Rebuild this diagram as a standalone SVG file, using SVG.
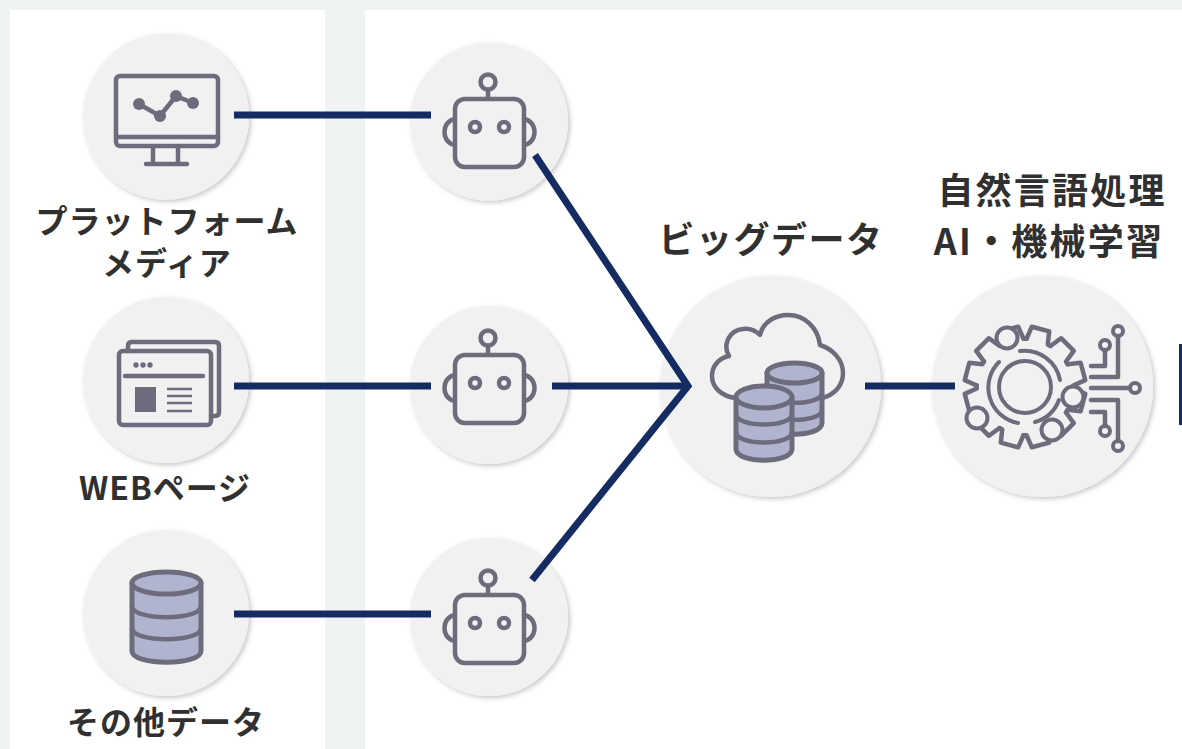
<svg xmlns="http://www.w3.org/2000/svg" xmlns:xlink="http://www.w3.org/1999/xlink" width="1182" height="749" viewBox="0 0 1182 749">
<style>
.disc{fill:#f1f1f2;filter:url(#sh)}
.ic{fill:none;stroke:#6c6c7c;stroke-width:4.5;stroke-linecap:round;stroke-linejoin:round}
.thin{stroke-width:4}
.db{fill:#b0b4cf;stroke:#6c6c7c;stroke-width:5;stroke-linejoin:round}
.dbl{fill:none;stroke:#6c6c7c;stroke-width:4.5}
.solid{fill:#6c6c7c;stroke:none}
.lb{font-family:"Noto Sans CJK JP","Noto Sans",sans-serif;font-weight:700;font-size:32px;fill:#303030;text-anchor:middle;letter-spacing:1px}
.big{font-size:36px;letter-spacing:1.500px}
.wide{letter-spacing:2.200px}
.cn{stroke:#152c63;stroke-width:7;fill:none}
</style>
<defs>
<filter id="sh" x="-20%" y="-20%" width="140%" height="140%"><feDropShadow dx="2" dy="2" stdDeviation="2.5" flood-color="#000" flood-opacity="0.22"/></filter>
<g id="robot">
<rect class="ic" x="-34" y="-22" width="69" height="68" rx="10"/>
<circle class="ic" cx="-1" cy="-39" r="7.5"/>
<path class="ic" d="M-1-31V-22M-34-2C-48 0-48 22-34 24M35-2C49 0 49 22 35 24"/>
<circle class="ic" cx="-14" cy="6" r="5"/>
<circle class="ic" cx="15" cy="6" r="5"/>
</g>
<path id="tooth" class="ic" d="M-11-47L-9-60H9L11-47L14-46.200"/>
</defs>
<rect width="1182" height="749" fill="#eff3f4"/>
<rect x="10" y="10" width="315" height="739" fill="#fff"/>
<rect x="365" y="10" width="817" height="739" fill="#fff"/>

<g id="node-platform">
<circle class="disc" cx="166" cy="116.500" r="83"/>
<rect class="ic" x="116" y="76" width="102" height="70" rx="4"/>
<path class="ic" d="M116 137H218M153 146V164M178 146V164M146 164H187"/>
<path class="ic" d="M139 104L160 116L176 96L193 103"/>
<circle class="solid" cx="139" cy="104" r="6"/><circle class="solid" cx="160" cy="116" r="6"/><circle class="solid" cx="176" cy="96" r="6"/><circle class="solid" cx="193" cy="103" r="6"/>
<text class="lb" x="167" y="233">プラットフォーム</text>
<text class="lb" x="167" y="275">メディア</text>
</g>

<g id="node-web">
<circle class="disc" cx="166" cy="380" r="83"/>
<path class="ic" d="M128 351V346Q128 342 132 342H215Q219 342 219 346V412Q219 416 215 416H211"/>
<rect class="ic" x="119" y="351" width="92" height="74" rx="4"/>
<circle class="solid" cx="136" cy="365" r="2.700"/><circle class="solid" cx="143" cy="365" r="2.700"/><circle class="solid" cx="150" cy="365" r="2.700"/>
<path class="ic" d="M125 376H203"/>
<rect class="solid" x="135" y="387" width="21" height="25"/>
<path d="M167 389H192M167 396H192M167 403H192M167 411H192" fill="none" stroke="#6c6c7c" stroke-width="2.500"/>
<text class="lb" x="165" y="500">WEBページ</text>
</g>

<g id="node-other">
<circle class="disc" cx="166" cy="613" r="83"/>
<path class="db" d="M132 583V651C132 666 201 666 201 651V583Z"/>
<ellipse class="db" cx="166.500" cy="583" rx="34.500" ry="11"/>
<path class="dbl" d="M132 606C132 621 201 621 201 606M132 628C132 643 201 643 201 628"/>
<text class="lb" x="166" y="734">その他データ</text>
</g>

<g id="node-robot-1">
<circle class="disc" cx="489" cy="121.500" r="79"/>
<use xlink:href="#robot" href="#robot" transform="translate(489 121)"/>
</g>
<g id="node-robot-2">
<circle class="disc" cx="489" cy="385" r="79"/>
<use xlink:href="#robot" href="#robot" transform="translate(489 377)"/>
</g>
<g id="node-robot-3">
<circle class="disc" cx="489" cy="617" r="79"/>
<use xlink:href="#robot" href="#robot" transform="translate(489 617)"/>
</g>

<g id="node-bigdata">
<circle class="disc" cx="770.500" cy="386.500" r="110.500"/>
<path class="ic" d="M735 398C722 396 712 388 712 376C712 366 719 358 729 356C722 344 730 330 743 329C750 328 756 331 760 335C763 322 775 315 788 315C805 315 818 328 820 345C833 349 843 360 843 373C843 386 834 395 822 398"/>
<path class="db" d="M767 373V423C767 438 822 438 822 423V373Z"/>
<ellipse class="db" cx="794.500" cy="373" rx="27.500" ry="10"/>
<path class="dbl" d="M767 393C767 406 822 406 822 393M767 410C767 423 822 423 822 410"/>
<path class="db" d="M736 397V449C736 464 792 464 792 449V397Z"/>
<ellipse class="db" cx="764" cy="397" rx="28" ry="11"/>
<path class="dbl" d="M736 414C736 428 792 428 792 414M736 432C736 446 792 446 792 432"/>
<text class="lb big" x="771" y="253">ビッグデータ</text>
</g>

<g id="node-ai">
<circle class="disc" cx="1042.500" cy="386.500" r="110.500"/>
<g transform="translate(1025 387)">
<use xlink:href="#tooth" href="#tooth" transform="rotate(15)"/>
<use xlink:href="#tooth" href="#tooth" transform="rotate(45)"/>
<use xlink:href="#tooth" href="#tooth" transform="rotate(75)"/>
<use xlink:href="#tooth" href="#tooth" transform="rotate(105)"/>
<use xlink:href="#tooth" href="#tooth" transform="rotate(135)"/>
<use xlink:href="#tooth" href="#tooth" transform="rotate(165)"/>
<use xlink:href="#tooth" href="#tooth" transform="rotate(195)"/>
<use xlink:href="#tooth" href="#tooth" transform="rotate(225)"/>
<use xlink:href="#tooth" href="#tooth" transform="rotate(255)"/>
<use xlink:href="#tooth" href="#tooth" transform="rotate(285)"/>
<use xlink:href="#tooth" href="#tooth" transform="rotate(315)"/>
<use xlink:href="#tooth" href="#tooth" transform="rotate(345)"/>
</g>
<circle class="ic thin" cx="1025" cy="387" r="26"/>
<path class="ic thin" d="M1020 351A36 36 0 0 1 1060 380M1059 400A36 36 0 0 1 1035 422M1018 423A36 36 0 0 1 999 362"/>
<g fill="#f1f1f2" stroke="#6c6c7c" stroke-width="4">
<circle cx="1007" cy="338" r="10.500"/>
<circle cx="1073" cy="397" r="10.500"/>
<circle cx="1052" cy="430" r="10.500"/>
<circle cx="977" cy="418" r="10.500"/>
</g>
<path class="ic" d="M1118 336V377H1091M1105 350V366H1091M1091 388H1130M1091 400H1118V441M1091 412H1105V426"/>
<circle class="ic thin" cx="1118" cy="331" r="5"/>
<circle class="ic thin" cx="1105" cy="345" r="5"/>
<circle class="ic thin" cx="1135" cy="388" r="5"/>
<circle class="ic thin" cx="1105" cy="431" r="5"/>
<circle class="ic thin" cx="1118" cy="446" r="5"/>
<text class="lb big wide" x="1052" y="204">自然言語処理</text>
<text class="lb big wide" x="1049" y="255">AI・機械学習</text>
</g>

<g id="connectors">
<path class="cn" d="M234 115H431M234 386H431M234 614H431M552 386H688M865 386H955"/>
<path class="cn" d="M535 155L688 386L532 580"/>
<rect x="1179" y="344" width="3" height="81" fill="#152c63"/>
</g>
</svg>
